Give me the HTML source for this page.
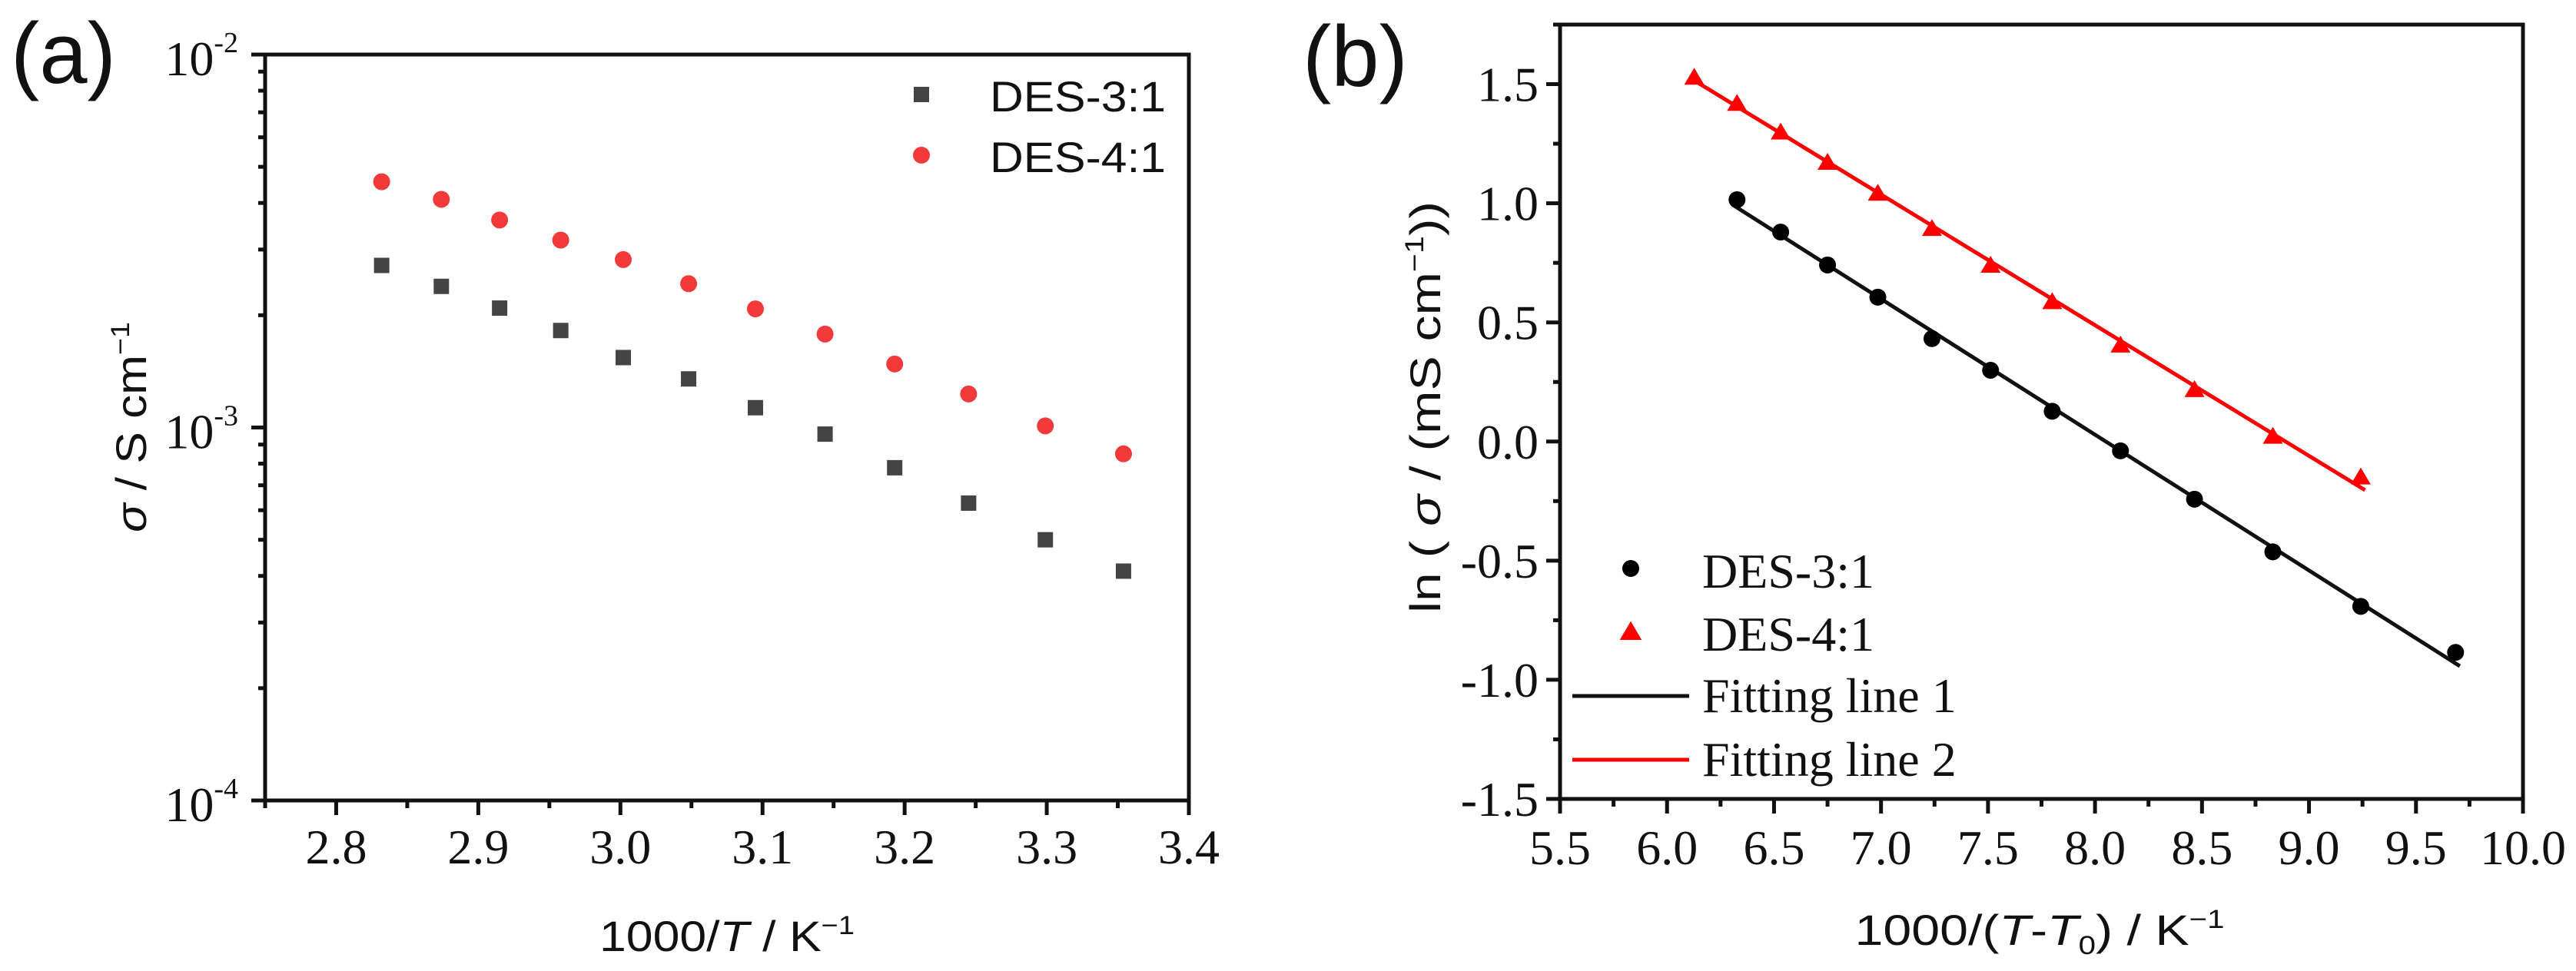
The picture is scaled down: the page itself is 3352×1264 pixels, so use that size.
<!DOCTYPE html>
<html><head><meta charset="utf-8"><style>
html,body{margin:0;padding:0;background:#fff;}
svg{display:block;}
.tk{font-family:"Liberation Serif",serif;font-size:64px;fill:#111;}
.ti{font-family:"Liberation Sans",sans-serif;font-size:56px;fill:#111;}
.lg{font-family:"Liberation Serif",serif;font-size:64px;fill:#111;}
</style></head><body>
<svg id="fig" width="3352" height="1264" viewBox="0 0 3352 1264" xmlns="http://www.w3.org/2000/svg">
<rect width="3352" height="1264" fill="#fff"/>
<text x="14" y="108" font-family="Liberation Sans,sans-serif" font-size="112" fill="#111">(a)</text>
<text x="1695" y="112" font-family="Liberation Sans,sans-serif" font-size="112" fill="#111">(b)</text>
<g id="ga"></g>
<g id="gb"></g>
<text class="ti" x="946" y="1238" text-anchor="middle" textLength="332" lengthAdjust="spacingAndGlyphs">1000/<tspan font-style="italic">T</tspan> / K<tspan font-size="34" dy="-22">−1</tspan></text>
<text class="ti" transform="translate(190,556) rotate(-90)" text-anchor="middle" textLength="274" lengthAdjust="spacingAndGlyphs"><tspan font-style="italic">σ</tspan> / S cm<tspan font-size="34" dy="-22">−1</tspan></text>
<text class="ti" x="2654" y="1230" text-anchor="middle" textLength="481" lengthAdjust="spacingAndGlyphs">1000/(<tspan font-style="italic">T</tspan>-<tspan font-style="italic">T</tspan><tspan font-size="34" dy="12">0</tspan><tspan dy="-12">) / K</tspan><tspan font-size="34" dy="-22">−1</tspan></text>
<text class="ti" transform="translate(1874,530) rotate(-90)" text-anchor="middle" textLength="536" lengthAdjust="spacingAndGlyphs">ln ( <tspan font-style="italic">σ</tspan> / (mS cm<tspan font-size="34" dy="-22">−1</tspan><tspan dy="22">))</tspan></text>
</svg>
<script>
// Panel (a) data
const aX = [2.832, 2.874, 2.915, 2.958, 3.002, 3.048, 3.095, 3.144, 3.193, 3.245, 3.299, 3.354];
const aDES31 = [2.72e-3, 2.39e-3, 2.09e-3, 1.82e-3, 1.54e-3, 1.35e-3, 1.13e-3, 0.96e-3, 0.78e-3, 0.627e-3, 0.50e-3, 0.412e-3];
const aDES41 = [4.56e-3, 4.09e-3, 3.60e-3, 3.18e-3, 2.82e-3, 2.43e-3, 2.08e-3, 1.78e-3, 1.48e-3, 1.23e-3, 1.01e-3, 0.85e-3];
const aXTicks = ["2.8", "2.9", "3.0", "3.1", "3.2", "3.3", "3.4"];
const aYExp = ["-2", "-3", "-4"];
// Panel (b) data
const bX31 = [6.327, 6.531, 6.75, 6.985, 7.238, 7.512, 7.8, 8.119, 8.465, 8.831, 9.242, 9.685];
const bY31 = [1.015, 0.879, 0.741, 0.606, 0.432, 0.299, 0.127, -0.039, -0.242, -0.463, -0.692, -0.885];
const bX41 = [6.127, 6.327, 6.531, 6.75, 6.985, 7.238, 7.512, 7.8, 8.119, 8.465, 8.831, 9.242];
const bY41 = [1.53, 1.42, 1.30, 1.173, 1.043, 0.895, 0.741, 0.588, 0.406, 0.219, 0.023, -0.148];
const bXTicks = ["5.5", "6.0", "6.5", "7.0", "7.5", "8.0", "8.5", "9.0", "9.5", "10.0"];
const bYTicks = ["-1.5", "-1.0", "-0.5", "0.0", "0.5", "1.0", "1.5"];

const NS = "http://www.w3.org/2000/svg";
function mk(parent, tag, attrs, txt) {
  const e = document.createElementNS(NS, tag);
  for (const k in attrs) e.setAttribute(k, attrs[k]);
  if (txt !== undefined) e.textContent = txt;
  parent.appendChild(e);
  return e;
}
// ----- Panel a -----
const ga = document.getElementById('ga');
const aL = 345, aR = 1547, aT = 71, aB = 1042;
const ax = v => aL + (v - 2.75) / 0.65 * (aR - aL);
const ay = v => aT + (-2 - Math.log10(v)) / 2 * (aB - aT);
// y ticks (log)
for (let d = -4; d < -2; d++) {
  for (let m = 2; m <= 9; m++) {
    const y = ay(m * Math.pow(10, d));
    const t = mk(ga, 'line', {x1: aL - 9, x2: aL, y1: y, y2: y, stroke: '#111', 'stroke-width': 5});
    
    
  }
}
aYExp.forEach(e => {
  const y = ay(Math.pow(10, +e));
  const t = mk(ga, 'line', {x1: aL - 18, x2: aL, y1: y, y2: y, stroke: '#111', 'stroke-width': 5});
  
  
  const tx = mk(ga, 'text', {class: 'tk', x: 310, y: y + 27, 'text-anchor': 'end'});
  
  
  mk(tx, 'tspan', {}, '10');
  mk(tx, 'tspan', {'font-size': 38, dy: -30}, e);
});
// x ticks
aXTicks.forEach(s => {
  const x = ax(+s);
  const t = mk(ga, 'line', {x1: x, x2: x, y1: aB, y2: aB + 19, stroke: '#111', 'stroke-width': 5});
  
  
  const tx = mk(ga, 'text', {class: 'tk', x: x, y: 1124, 'text-anchor': 'middle'}, s);
  
  
});
for (let k = 0; k < 7; k++) {
  const x = ax(2.75 + k * 0.1);
  const t = mk(ga, 'line', {x1: x, x2: x, y1: aB, y2: aB + 10, stroke: '#111', 'stroke-width': 5});
  
  
}
const fa = mk(ga, 'rect', {x: aL, y: aT, width: aR - aL, height: aB - aT, fill: 'none', stroke: '#111', 'stroke-width': 5});


aX.forEach((v, i) => {
  const s = mk(ga, 'rect', {x: ax(v) - 10, y: ay(aDES31[i]) - 10, width: 20, height: 20, fill: '#444'});
  
  
  const c = mk(ga, 'circle', {cx: ax(v), cy: ay(aDES41[i]), r: 11, fill: '#f23a3a'});
  
  
});
// legend a
const la1 = mk(ga, 'rect', {x: 1189, y: 113, width: 20, height: 20, fill: '#444'});


const lt1 = mk(ga, 'text', {class: 'ti', x: 1288, y: 145, textLength: 229, lengthAdjust: 'spacingAndGlyphs'}, 'DES-3:1');


const la2 = mk(ga, 'circle', {cx: 1199, cy: 202, r: 11, fill: '#f23a3a'});


const lt2 = mk(ga, 'text', {class: 'ti', x: 1288, y: 224, textLength: 229, lengthAdjust: 'spacingAndGlyphs'}, 'DES-4:1');



// ----- Panel b -----
const gb = document.getElementById('gb');
const bL = 2030, bR = 3283, bT = 32, bB = 1040;
const bx = v => bL + (v - 5.5) / 4.5 * (bR - bL);
const by = v => bB - (v + 1.5) / 3.25 * (bB - bT);
bYTicks.forEach(s => {
  const y = by(+s);
  const t = mk(gb, 'line', {x1: bL - 18, x2: bL, y1: y, y2: y, stroke: '#111', 'stroke-width': 5});
  
  
  const tx = mk(gb, 'text', {class: 'tk', x: 2002, y: y + 22, 'text-anchor': 'end'}, s);
  
  
});
for (let k = 0; k < 13; k++) {
  const y = by(-1.25 + k * 0.5);
  if (y < bT) break;
  const t = mk(gb, 'line', {x1: bL - 9, x2: bL, y1: y, y2: y, stroke: '#111', 'stroke-width': 5});
  
  
}
bXTicks.forEach(s => {
  const x = bx(+s);
  const t = mk(gb, 'line', {x1: x, x2: x, y1: bB, y2: bB + 19, stroke: '#111', 'stroke-width': 5});
  
  
  const tx = mk(gb, 'text', {class: 'tk', x: x, y: 1125, 'text-anchor': 'middle'}, s);
  
  
});
for (let k = 0; k < 9; k++) {
  const x = bx(5.75 + k * 0.5);
  const t = mk(gb, 'line', {x1: x, x2: x, y1: bB, y2: bB + 10, stroke: '#111', 'stroke-width': 5});
  
  
}
const fb = mk(gb, 'rect', {x: bL, y: bT, width: bR - bL, height: bB - bT, fill: 'none', stroke: '#111', 'stroke-width': 5});


function fit(xs, ys) {
  const n = xs.length;
  const mx = xs.reduce((a, b) => a + b) / n, my = ys.reduce((a, b) => a + b) / n;
  let sxy = 0, sxx = 0;
  for (let i = 0; i < n; i++) { sxy += (xs[i] - mx) * (ys[i] - my); sxx += (xs[i] - mx) ** 2; }
  const m = sxy / sxx; return [m, my - m * mx];
}
function fitLine(xs, ys, color, name) {
  const [m, c] = fit(xs, ys);
  const x0 = Math.min(...xs) - 0.02, x1 = Math.max(...xs) + 0.02;
  const l = mk(gb, 'line', {x1: bx(x0), y1: by(m * x0 + c), x2: bx(x1), y2: by(m * x1 + c), stroke: color, 'stroke-width': 5});
  
  
}
fitLine(bX31, bY31, '#111', 'fitting-line-1');
fitLine(bX41, bY41, '#f00', 'fitting-line-2');
bX31.forEach((v, i) => {
  const c = mk(gb, 'circle', {cx: bx(v), cy: by(bY31[i]), r: 11, fill: '#000'});
  
  
});
function tri(cx, cy, s) {
  return `${cx},${cy - s * 0.6} ${cx - s * 0.65},${cy + s * 0.5} ${cx + s * 0.65},${cy + s * 0.5}`;
}
bX41.forEach((v, i) => {
  const p = mk(gb, 'polygon', {points: tri(bx(v), by(bY41[i]), 20), fill: '#f00'});
  
  
});
// legend b
const lb1 = mk(gb, 'circle', {cx: 2122, cy: 740, r: 11, fill: '#000'});


const lbt1 = mk(gb, 'text', {class: 'lg', x: 2215, y: 765}, 'DES-3:1');


const lb2 = mk(gb, 'polygon', {points: tri(2122, 822, 22), fill: '#f00'});


const lbt2 = mk(gb, 'text', {class: 'lg', x: 2215, y: 847}, 'DES-4:1');


const lb3 = mk(gb, 'line', {x1: 2046, x2: 2198, y1: 906, y2: 906, stroke: '#111', 'stroke-width': 5});


const lbt3 = mk(gb, 'text', {class: 'lg', x: 2215, y: 927}, 'Fitting line 1');


const lb4 = mk(gb, 'line', {x1: 2046, x2: 2198, y1: 989, y2: 989, stroke: '#f00', 'stroke-width': 5});


const lbt4 = mk(gb, 'text', {class: 'lg', x: 2215, y: 1010}, 'Fitting line 2');


</script>
</body></html>
